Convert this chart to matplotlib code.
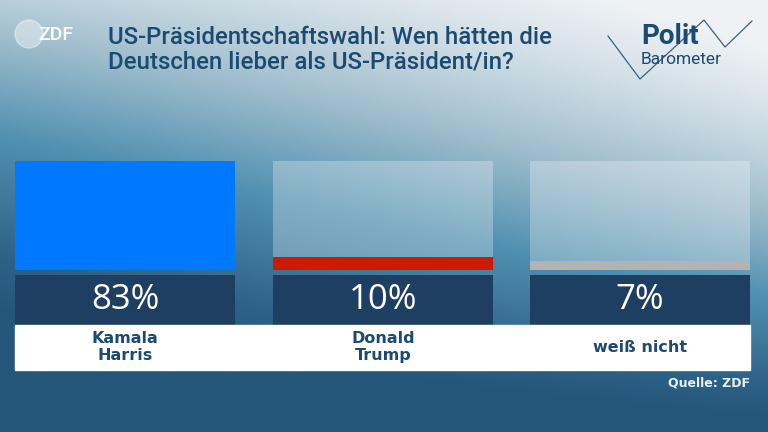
import numpy as np
import matplotlib.pyplot as plt
from matplotlib.colors import LinearSegmentedColormap

# data
categories = ["Kamala\nHarris", "Donald\nTrump", "weiß nicht"]
values = [83, 10, 7]
colors = ["#0078ff", "#cc1b00", "#b3b3b3"]
title = "US-Präsidentschaftswahl: Wen hätten die\nDeutschen lieber als US-Präsident/in?"
source = "Quelle: ZDF"

W, H = 768, 432
fig = plt.figure(figsize=(W / 100, H / 100), dpi=100)
ax = fig.add_axes([0, 0, 1, 1])
ax.set_xlim(0, W)
ax.set_ylim(0, H)
ax.axis("off")

# background gradient (light top-right, dark blue bottom)
bg = LinearSegmentedColormap.from_list(
    "bg", [(0, "#245679"), (0.15, "#2f6288"), (0.45, "#5090b0"), (0.7, "#9dbccc"), (1, "#eef2f5")])
yn, xn = np.mgrid[0:1:200j, 0:1:300j]
yn = 1 - yn  # 0 at top
s = np.clip(0.8 + 0.25 * xn - 1.1 * yn + 0.73 * xn * yn * (1 - yn), 0, 1)
ax.imshow(s, cmap=bg, vmin=0, vmax=1, extent=[0, W, 0, H], origin="lower",
          aspect="auto", zorder=0)

# bars
x0 = np.array([15, 273, 530])
bw = 220
base_y = H - 270
full = 109
heights = np.array(values) / max(values) * full
ax.bar(x0, [full] * 3, width=bw, bottom=base_y, align="edge",
       color="white", alpha=0.28, zorder=1)
ax.bar(x0, heights, width=bw, bottom=base_y, align="edge", color=colors, zorder=2)

# value boxes
ax.bar(x0, [50] * 3, width=bw, bottom=H - 325, align="edge", color="#1f3f62", zorder=2)
for x, v in zip(x0, values):
    ax.text(x + bw / 2, H - 300, f"{v}%", color="white", fontsize=25,
            ha="center", va="center", family="Open Sans", zorder=3)

# label strip
ax.add_patch(plt.Rectangle((15, H - 370), 735, 45, color="white", zorder=2))
for x, c in zip(x0, categories):
    ax.text(x + bw / 2, H - 347, c, color="#1c4a70", fontsize=11.5, fontweight="bold",
            ha="center", va="center", linespacing=1.1, zorder=3)

ax.text(750, H - 383, source, color="#e8f0f5", fontsize=9, fontweight="bold",
        ha="right", va="center", zorder=3)

# title
ax.text(108, H - 50, title, color="#1c4a70", fontsize=17.3, fontweight="medium",
        family="Roboto", ha="left", va="center", linespacing=1.1, zorder=3)

# ZDF logo
ax.add_patch(plt.Circle((29, H - 34), 14, color="white", alpha=0.4, zorder=2))
ax.text(56, H - 35, "ZDF", color="white", fontsize=14, fontweight="medium",
        family="Roboto", ha="center", va="center", zorder=3)

# Politbarometer logo
ax.plot([608, 640, 704, 725, 752], [H - 36, H - 79, H - 20, H - 47, H - 21],
        color="#3d5f80", lw=0.9, zorder=3)
ax.text(641, H - 37, "Polit", color="#1c4a70", fontsize=20, fontweight="bold",
        family="Roboto", ha="left", va="center", zorder=3)
ax.text(641, H - 60, "Barometer", color="#1c4a70", fontsize=12.5,
        family="Roboto", ha="left", va="center", zorder=3)

fig.savefig("out.png", dpi=100)
